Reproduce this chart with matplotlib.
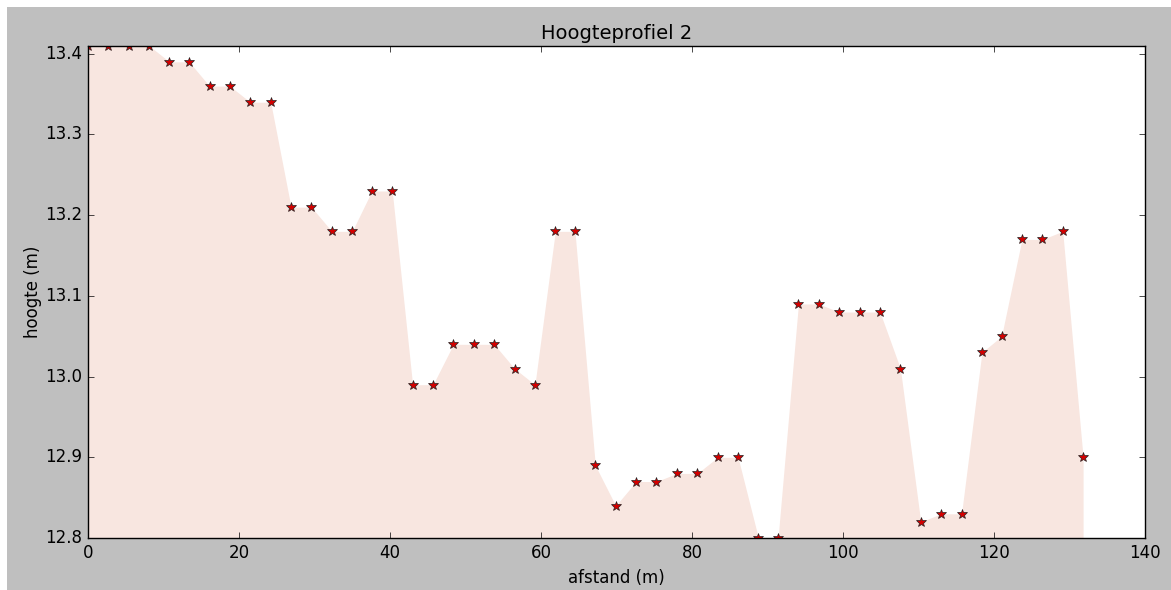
import matplotlib
matplotlib.use('Agg')
import matplotlib.pyplot as plt
from matplotlib.patches import Rectangle

# afstand langs het profiel (m) en gemeten hoogte (m)
afstand = [0.0, 2.7, 5.4, 8.1, 10.8, 13.4, 16.1, 18.8, 21.5, 24.2,
           26.9, 29.6, 32.3, 35.0, 37.6, 40.3, 43.0, 45.7, 48.4, 51.1,
           53.8, 56.5, 59.2, 61.9, 64.5, 67.2, 69.9, 72.6, 75.3, 78.0,
           80.7, 83.4, 86.1, 88.8, 91.4, 94.1, 96.8, 99.5, 102.2, 104.9,
           107.6, 110.3, 113.0, 115.7, 118.4, 121.0, 123.7, 126.4, 129.1, 131.8]
hoogte = [13.41, 13.41, 13.41, 13.41, 13.39, 13.39, 13.36, 13.36, 13.34, 13.34,
          13.21, 13.21, 13.18, 13.18, 13.23, 13.23, 12.99, 12.99, 13.04, 13.04,
          13.04, 13.01, 12.99, 13.18, 13.18, 12.89, 12.84, 12.87, 12.87, 12.88,
          12.88, 12.90, 12.90, 12.80, 12.80, 13.09, 13.09, 13.08, 13.08, 13.08,
          13.01, 12.82, 12.83, 12.83, 13.03, 13.05, 13.17, 13.17, 13.18, 12.90]

plt.style.use('classic')
fig = plt.figure(figsize=(11.71, 5.90), dpi=100, facecolor='white')
# grey figure background with a thin white margin left/top
fig.patches.append(Rectangle((7 / 1171, 0), 1, 1 - 7 / 590, transform=fig.transFigure,
                             facecolor='#bfbfbf', edgecolor='none', zorder=-10))

ax = fig.add_axes([0.0751, 0.0881, 0.9027, 0.8344])
ax.fill_between(afstand, hoogte, min(hoogte), facecolor='#f8e6e0', linewidth=0)
ax.plot(afstand, hoogte, '*', color='#d40000', markersize=7,
        markeredgecolor='#222222', markeredgewidth=0.5)

ax.set_xlim(0, 140)
ax.set_ylim(min(hoogte), max(hoogte))
ax.set_yticks([12.8, 12.9, 13.0, 13.1, 13.2, 13.3, 13.4])
ax.set_title('Hoogteprofiel 2', fontsize=14)
ax.set_xlabel('afstand (m)')
ax.set_ylabel('hoogte (m)', labelpad=2)

fig.savefig('out.png', dpi=100, facecolor=fig.get_facecolor())
